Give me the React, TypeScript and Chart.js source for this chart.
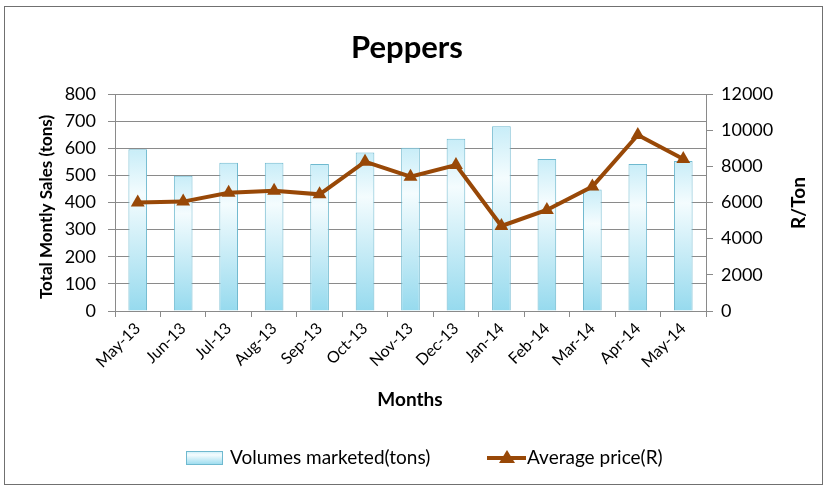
import React, { useEffect, useRef } from "react";
import { Chart, registerables } from "chart.js";

Chart.register(...registerables);

const months = ["May-13","Jun-13","Jul-13","Aug-13","Sep-13","Oct-13","Nov-13","Dec-13","Jan-14","Feb-14","Mar-14","Apr-14","May-14"];
const volumes = [596, 499, 547, 547, 542, 584, 602, 635, 681, 560, 448, 542, 553];
const prices = [6000, 6050, 6540, 6650, 6450, 8260, 7430, 8075, 4700, 5590, 6880, 9730, 8400];
const leftTicks = [0, 800, 100];
const rightTicks = [0, 12000, 2000];

const FONT = "Lato, 'Open Sans', sans-serif";
const BROWN = "#984807";
const GRID = "#8a8a8a";

function barGradient(ctx: CanvasRenderingContext2D, top: number, bottom: number) {
  const g = ctx.createLinearGradient(0, top, 0, bottom);
  g.addColorStop(0, "#c8edf8");
  g.addColorStop(0.28, "#f4fcfe");
  g.addColorStop(1, "#96daee");
  return g;
}

const decor = {
  id: "decor",
  afterDraw(chart: any) {
    const ctx = chart.ctx as CanvasRenderingContext2D;
    const ca = chart.chartArea;
    ctx.save();
    ctx.strokeStyle = "#707070";
    ctx.lineWidth = 1;
    ctx.strokeRect(4.5, 6.5, 818, 478);
    ctx.fillStyle = "#000";
    ctx.textAlign = "center";
    ctx.textBaseline = "middle";
    ctx.font = `bold 31px ${FONT}`;
    ctx.fillText("Peppers", 407, 48);
    ctx.font = `bold 19px ${FONT}`;
    ctx.fillText("Months", 410, 400);
    ctx.save();
    ctx.translate(47, 207);
    ctx.rotate(-Math.PI / 2);
    ctx.font = `bold 17px ${FONT}`;
    ctx.fillText("Total Montly Sales (tons)", 0, 0);
    ctx.restore();
    ctx.save();
    ctx.translate(799, 203);
    ctx.rotate(-Math.PI / 2);
    ctx.font = `bold 19px ${FONT}`;
    ctx.fillText("R/Ton", 0, 0);
    ctx.restore();
    // legend
    const ly = 458;
    ctx.fillStyle = barGradient(ctx, ly - 7, ly + 7);
    ctx.fillRect(186.5, ly - 6.5, 36, 13);
    ctx.strokeStyle = "#6fb9cf";
    ctx.lineWidth = 1;
    ctx.strokeRect(186.5, ly - 6.5, 36, 13);
    ctx.fillStyle = "#000";
    ctx.font = `19px ${FONT}`;
    ctx.textAlign = "left";
    ctx.fillText("Volumes marketed(tons)", 230, ly);
    ctx.strokeStyle = BROWN;
    ctx.lineWidth = 4;
    ctx.beginPath();
    ctx.moveTo(487, ly);
    ctx.lineTo(526, ly);
    ctx.stroke();
    ctx.fillStyle = BROWN;
    ctx.beginPath();
    ctx.moveTo(507, ly - 8);
    ctx.lineTo(515, ly + 5);
    ctx.lineTo(499, ly + 5);
    ctx.closePath();
    ctx.fill();
    ctx.fillStyle = "#000";
    ctx.fillText("Average price(R)", 527, ly);
    ctx.restore();
  },
};

export default function App() {
  const ref = useRef<HTMLCanvasElement>(null);
  useEffect(() => {
    document.body.style.margin = "0";
    const canvas = ref.current!;
    const chart = new Chart(canvas, {
      type: "bar",
      data: {
        labels: months,
        datasets: [
          {
            type: "line",
            label: "Average price(R)",
            data: prices,
            yAxisID: "y1",
            borderColor: BROWN,
            backgroundColor: BROWN,
            borderWidth: 4,
            pointStyle: "triangle",
            pointRadius: 8,
            pointBorderWidth: 0,
            tension: 0,
            order: 0,
          } as any,
          {
            type: "bar",
            label: "Volumes marketed(tons)",
            data: volumes,
            yAxisID: "y",
            backgroundColor: (c: any) => {
              const ch = c.chart;
              const ca = ch.chartArea;
              if (!ca || c.raw == null) return "#bfeaf5";
              const top = ch.scales.y.getPixelForValue(c.raw);
              return barGradient(ch.ctx, top, ca.bottom);
            },
            borderColor: "#6fb9cf",
            borderWidth: 1,
            barPercentage: 0.41,
            categoryPercentage: 1,
            order: 1,
          } as any,
        ],
      },
      options: {
        animation: false,
        responsive: false,
        maintainAspectRatio: false,
        layout: { padding: { top: 94, bottom: 0, left: 0, right: 0 } },
        plugins: { legend: { display: false }, title: { display: false }, tooltip: { enabled: false } },
        scales: {
          x: {
            offset: true,
            grid: { offset: true, drawOnChartArea: false, drawTicks: true, tickLength: 6, color: GRID },
            border: { display: true, color: GRID },
            ticks: { maxRotation: 45, minRotation: 45, color: "#000", font: { family: FONT, size: 16 }, padding: 2 },
            afterFit: (s: any) => { s.height = 486 - 311; },
          },
          y: {
            position: "left",
            min: leftTicks[0],
            max: leftTicks[1],
            ticks: { stepSize: leftTicks[2], color: "#000", font: { family: FONT, size: 18 }, padding: 12 },
            grid: { color: GRID, tickLength: 7, drawTicks: true },
            border: { display: true, color: GRID },
            afterFit: (s: any) => { s.width = 115; },
          },
          y1: {
            position: "right",
            min: rightTicks[0],
            max: rightTicks[1],
            ticks: {
              stepSize: rightTicks[2],
              color: "#000",
              font: { family: FONT, size: 18 },
              padding: 8,
              callback: (v: any) => String(v),
            },
            grid: { drawOnChartArea: false, color: GRID, tickLength: 7, drawTicks: true },
            border: { display: true, color: GRID },
            afterFit: (s: any) => { s.width = 827 - 706; },
          },
        },
      },
      plugins: [decor],
    });
    return () => chart.destroy();
  }, []);
  return <canvas ref={ref} width={827} height={486} style={{ display: "block", width: 827, height: 486 }} />;
}
